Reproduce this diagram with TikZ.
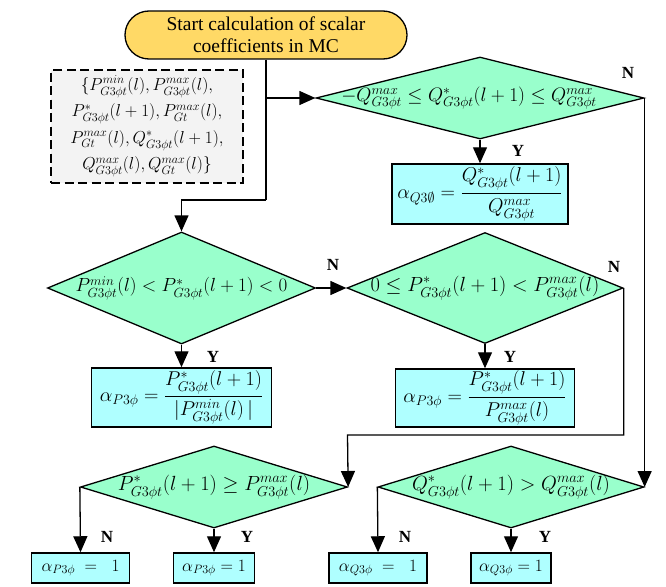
\RequirePackage{fix-cm}
\documentclass[tikz,border=0pt]{standalone}
\usepackage{amsmath}
\usepackage{fontspec}
\setmainfont{Liberation Serif}
\usetikzlibrary{shapes.geometric,arrows.meta}
\definecolor{startfill}{RGB}{255,217,102}
\definecolor{decfill}{RGB}{153,255,204}
\definecolor{resfill}{RGB}{175,255,255}
\definecolor{datafill}{RGB}{243,243,243}
\begin{document}
\begin{tikzpicture}[x=1pt,y=-1pt,
  dia/.style={diamond,draw=black,fill=decfill,line width=1.3pt,inner sep=0pt,aspect=1,
    font=\fontsize{20.5}{24}\selectfont},
  resbox/.style={rectangle,draw=black,fill=resfill,line width=1.5pt,inner sep=0pt,
    font=\fontsize{20}{24}\selectfont},
  smallres/.style={resbox,font=\fontsize{17.3}{20}\selectfont},
  startbox/.style={rectangle,rounded corners=24pt,draw=black,fill=startfill,line width=1.3pt,
    align=center,inner sep=0pt,font=\fontsize{19.5}{22}\selectfont},
  databox/.style={rectangle,draw=black,fill=datafill,line width=1.3pt,dash pattern=on 9pt off 4.5pt,
    align=center,inner sep=0pt,font=\fontsize{17.3}{26.5}\selectfont},
  conn/.style={line width=1.3pt},
  arr/.style={conn,-{Triangle[length=16pt,width=14pt]}},
  lab/.style={font=\fontsize{17}{20}\selectfont\bfseries,inner sep=0pt}]
\useasboundingbox (0,0) rectangle (666,586);

% nodes
\node[startbox,minimum width=282pt,minimum height=48pt] (start) at (266,35)
  {Start calculation of scalar\\coefficients in MC};
\node[databox,minimum width=192pt,minimum height=113pt] (data) at (147,126.5)
  {$\{P^{min}_{G3\phi t}(l),P^{max}_{G3\phi t}(l),$\\
   $P^{*}_{G3\phi t}(l+1),P^{max}_{Gt}(l),$\\
   $P^{max}_{Gt}(l),Q^{*}_{G3\phi t}(l+1),$\\
   $Q^{max}_{G3\phi t}(l),Q^{max}_{Gt}(l)\}$};

\node[dia,minimum width=328pt,minimum height=82pt,font=\fontsize{19.5}{22}\selectfont] (d1) at (480,98)
  {\makebox[0pt]{$-Q^{max}_{G3\phi t}\le Q^{*}_{G3\phi t}(l+1)\le Q^{max}_{G3\phi t}$\hspace{22pt}}};
\node[resbox,minimum width=176pt,minimum height=60pt] (bq) at (480,194)
  {$\alpha_{Q3\emptyset}=\dfrac{Q^{*}_{G3\phi t}(l+1)}{Q^{max}_{G3\phi t}}$};

\node[dia,minimum width=268pt,minimum height=112pt,font=\fontsize{19}{22}\selectfont] (d2) at (181.5,288)
  {\makebox[0pt]{$P^{min}_{G3\phi t}(l)<P^{*}_{G3\phi t}(l+1)<0$}};
\node[dia,minimum width=276pt,minimum height=111pt] (d3) at (485,288)
  {\makebox[0pt]{$0\le P^{*}_{G3\phi t}(l+1)<P^{max}_{G3\phi t}(l)$}};
\node[resbox,minimum width=180pt,minimum height=59pt] (bp1) at (181.5,397.5)
  {$\alpha_{P3\phi}=\dfrac{P^{*}_{G3\phi t}(l+1)}{|P^{min}_{G3\phi t}(l)\,|}$};
\node[resbox,minimum width=179pt,minimum height=58pt] (bp2) at (485,398)
  {$\alpha_{P3\phi}=\dfrac{P^{*}_{G3\phi t}(l+1)}{P^{max}_{G3\phi t}(l)}$};

\node[dia,minimum width=267pt,minimum height=82pt] (d4) at (214,487)
  {\makebox[0pt]{$P^{*}_{G3\phi t}(l+1)\ge P^{max}_{G3\phi t}(l)$}};
\node[dia,minimum width=266pt,minimum height=82pt] (d5) at (511,487)
  {\makebox[0pt]{$Q^{*}_{G3\phi t}(l+1)>Q^{max}_{G3\phi t}(l)$}};

\node[smallres,minimum width=98pt,minimum height=30pt] (b4) at (80.5,568) {$\alpha_{P3\phi}\;=\;\;1$};
\node[smallres,minimum width=81pt,minimum height=30pt] (b5) at (214,568) {$\alpha_{P3\phi}=1$};
\node[smallres,minimum width=98pt,minimum height=30pt] (b6) at (378,568) {$\alpha_{Q3\phi}\;=\;\;1$};
\node[smallres,minimum width=80pt,minimum height=30pt] (b7) at (511,568) {$\alpha_{Q3\phi}=1$};

% labels
\node[lab] (n1) at (628,73) {N};
\node[lab] (y1) at (518,151) {Y};
\node[lab] (n2) at (333,265) {N};
\node[lab] (y2) at (213,357) {Y};
\node[lab] (n3) at (614,267) {N};
\node[lab] (y3) at (510,357) {Y};
\node[lab] (n4) at (107,537) {N};
\node[lab] (y4) at (247,537) {Y};
\node[lab] (n5) at (405,537) {N};
\node[lab] (y5) at (545,537) {Y};

% connectors
\coordinate (j0) at (266,98);
\coordinate (j1) at (266,200);
\coordinate (j2) at (347.5,435);
\draw[conn] (start.south) -- (j1);
\draw[arr] (j1) -| (d2.north);
\draw[arr] (j0) -- (d1.west);
\draw[arr] (d1.east) -- (d5.east);
\draw[arr] (d1.south) -- (bq.north);
\draw[arr] (d2.east) -- (d3.west);
\draw[arr] (d2.south) -- (bp1.north);
\draw[arr] (d3.south) -- (bp2.north);
\draw[arr] (d3.east) |- (j2) -- (d4.east);
\draw[arr] (d4.west) -- (b4.north);
\draw[arr] (d4.south) -- (b5.north);
\draw[arr] (d5.west) -- (b6.north);
\draw[arr] (d5.south) -- (b7.north);
\end{tikzpicture}
\end{document}
